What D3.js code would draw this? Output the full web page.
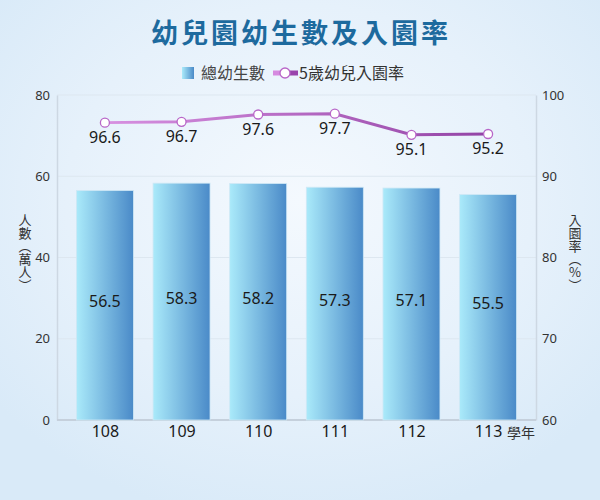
<!DOCTYPE html>
<html>
<head>
<meta charset="utf-8">
<script src="https://cdn.jsdelivr.net/npm/d3@7"></script>
<style>
  html, body { margin: 0; padding: 0; }
  body { width: 600px; height: 500px; overflow: hidden; }
  text { font-family: "Noto Sans CJK TC", "Noto Sans", sans-serif; }
</style>
</head>
<body>
<div id="chart"></div>
<script>
// chart data
var years = ['108', '109', '110', '111', '112', '113'];
var students = [56.5, 58.3, 58.2, 57.3, 57.1, 55.5];
var rates = [96.6, 96.7, 97.6, 97.7, 95.1, 95.2];
var leftTicks = [0, 20, 40, 60, 80];
var rightTicks = [60, 70, 80, 90, 100];

var width = 600, height = 500;
var plotLeft = 57, plotRight = 536, plotTop = 95, plotBottom = 420;

var svg = d3.select('#chart')
  .append('svg')
  .attr('width', width)
  .attr('height', height);

var defs = svg.append('defs');

var bg = defs.append('radialGradient').attr('id', 'bg')
  .attr('cx', '50%').attr('cy', '40%').attr('r', '65%');
bg.append('stop').attr('offset', '0%').attr('stop-color', '#f4f9fe');
bg.append('stop').attr('offset', '60%').attr('stop-color', '#e6f1fb');
bg.append('stop').attr('offset', '100%').attr('stop-color', '#d9eaf8');

var barGrad = defs.append('linearGradient').attr('id', 'bar')
  .attr('x1', '0%').attr('x2', '100%').attr('y1', '0%').attr('y2', '0%');
barGrad.append('stop').attr('offset', '0%').attr('stop-color', '#aaeafa');
barGrad.append('stop').attr('offset', '100%').attr('stop-color', '#4a8ac8');

var lineGrad = defs.append('linearGradient').attr('id', 'line')
  .attr('gradientUnits', 'userSpaceOnUse')
  .attr('x1', plotLeft).attr('x2', plotRight).attr('y1', 0).attr('y2', 0);
lineGrad.append('stop').attr('offset', '0%').attr('stop-color', '#e09ae8');
lineGrad.append('stop').attr('offset', '100%').attr('stop-color', '#8a3a9e');

svg.append('rect')
  .attr('width', width).attr('height', height)
  .attr('fill', 'url(#bg)');

// scales
var x = d3.scalePoint()
  .domain(years)
  .range([plotLeft, plotRight])
  .padding(0.625);

var yLeft = d3.scaleLinear().domain([0, 80]).range([plotBottom, plotTop]);
var yRight = d3.scaleLinear().domain([60, 100]).range([plotBottom, plotTop]);

var barWidth = 57;

// grid
svg.append('g')
  .selectAll('line')
  .data(leftTicks.slice(1))
  .enter()
  .append('line')
  .attr('x1', plotLeft).attr('x2', plotRight)
  .attr('y1', d => yLeft(d)).attr('y2', d => yLeft(d))
  .attr('stroke', '#dde7f0')
  .attr('stroke-width', 1);

// axes
var axisLeft = svg.append('g')
  .attr('transform', `translate(${plotLeft},0)`)
  .call(d3.axisLeft(yLeft).tickValues(leftTicks).tickSize(0).tickPadding(7));

var axisRight = svg.append('g')
  .attr('transform', `translate(${plotRight},0)`)
  .call(d3.axisRight(yRight).tickValues(rightTicks).tickSize(0).tickPadding(6));

var axisBottom = svg.append('g')
  .attr('transform', `translate(0,${plotBottom})`)
  .call(d3.axisBottom(x).tickSize(0).tickPadding(6));

[axisLeft, axisRight].forEach(g => {
  g.select('.domain').attr('stroke', '#cdd8e3').attr('stroke-width', 1.5);
  g.selectAll('text').attr('font-size', 13).attr('fill', '#333')
    .style('font-family', '"Noto Sans", sans-serif');
});
axisBottom.select('.domain')
  .attr('d', `M${plotLeft},0H${plotRight}`)
  .attr('stroke', '#c5d0dc').attr('stroke-width', 2);
axisBottom.selectAll('text').attr('font-size', 16).attr('fill', '#1a1a1a')
  .style('font-family', '"Noto Sans", sans-serif');

svg.append('text')
  .attr('x', x('113') + 19).attr('y', plotBottom + 18)
  .attr('font-size', 14).attr('fill', '#333')
  .text('學年');

// bars
svg.append('g')
  .selectAll('rect')
  .data(students)
  .enter()
  .append('rect')
  .attr('x', (d, i) => x(years[i]) - barWidth / 2)
  .attr('y', d => yLeft(d))
  .attr('width', barWidth)
  .attr('height', d => plotBottom - yLeft(d))
  .attr('fill', 'url(#bar)')
  .attr('stroke', '#cfe8f5')
  .attr('stroke-width', 0.8);

svg.append('g')
  .selectAll('text')
  .data(students)
  .enter()
  .append('text')
  .attr('x', (d, i) => x(years[i]))
  .attr('y', d => (yLeft(d) + plotBottom) / 2 + 2)
  .attr('text-anchor', 'middle')
  .attr('font-size', 16)
  .attr('fill', '#1a1a1a')
  .style('font-family', '"Noto Sans", sans-serif')
  .text(d => d.toFixed(1));

// line
var line = d3.line()
  .x((d, i) => x(years[i]))
  .y(d => yRight(d));

svg.append('path')
  .datum(rates)
  .attr('d', line)
  .attr('fill', 'none')
  .attr('stroke', 'url(#line)')
  .attr('stroke-width', 3);

svg.append('g')
  .selectAll('circle')
  .data(rates)
  .enter()
  .append('circle')
  .attr('cx', (d, i) => x(years[i]))
  .attr('cy', d => yRight(d))
  .attr('r', 4.5)
  .attr('fill', '#fff')
  .attr('stroke', '#b866c8')
  .attr('stroke-width', 1.3);

svg.append('g')
  .selectAll('text')
  .data(rates)
  .enter()
  .append('text')
  .attr('x', (d, i) => x(years[i]))
  .attr('y', d => yRight(d) + 20)
  .attr('text-anchor', 'middle')
  .attr('font-size', 16)
  .attr('fill', '#1a1a1a')
  .style('font-family', '"Noto Sans", sans-serif')
  .text(d => d.toFixed(1));

// title
svg.append('text')
  .attr('x', 301).attr('y', 43)
  .attr('text-anchor', 'middle')
  .attr('font-size', 27)
  .attr('font-weight', 'bold')
  .attr('fill', '#1d6a9e')
  .attr('letter-spacing', 3)
  .text('幼兒園幼生數及入園率');

// legend
var legend = svg.append('g');
legend.append('rect')
  .attr('x', 182).attr('y', 67).attr('width', 12).attr('height', 12)
  .attr('fill', 'url(#bar)');
legend.append('text')
  .attr('x', 201).attr('y', 79)
  .attr('font-size', 16).attr('fill', '#444')
  .text('總幼生數');
legend.append('line')
  .attr('x1', 273).attr('x2', 286).attr('y1', 73).attr('y2', 73)
  .attr('stroke', '#d68ae0').attr('stroke-width', 5);
legend.append('line')
  .attr('x1', 286).attr('x2', 298).attr('y1', 73).attr('y2', 73)
  .attr('stroke', '#9a44ac').attr('stroke-width', 5);
legend.append('circle')
  .attr('cx', 285).attr('cy', 73).attr('r', 5)
  .attr('fill', '#fff').attr('stroke', '#b866c8').attr('stroke-width', 1.3);
legend.append('text')
  .attr('x', 299).attr('y', 79)
  .attr('font-size', 16).attr('fill', '#333')
  .text('5歲幼兒入園率');

// vertical axis titles
function verticalTitle(label, cx, cy) {
  svg.append('text')
    .attr('x', cx)
    .attr('y', cy)
    .attr('text-anchor', 'middle')
    .attr('font-size', 13)
    .attr('fill', '#333')
    .style('writing-mode', 'vertical-rl')
    .style('text-orientation', 'upright')
    .text(label);
}
verticalTitle('人數（萬人）', 25, 253);
verticalTitle('入園率（%）', 575, 253);
</script>
</body>
</html>
